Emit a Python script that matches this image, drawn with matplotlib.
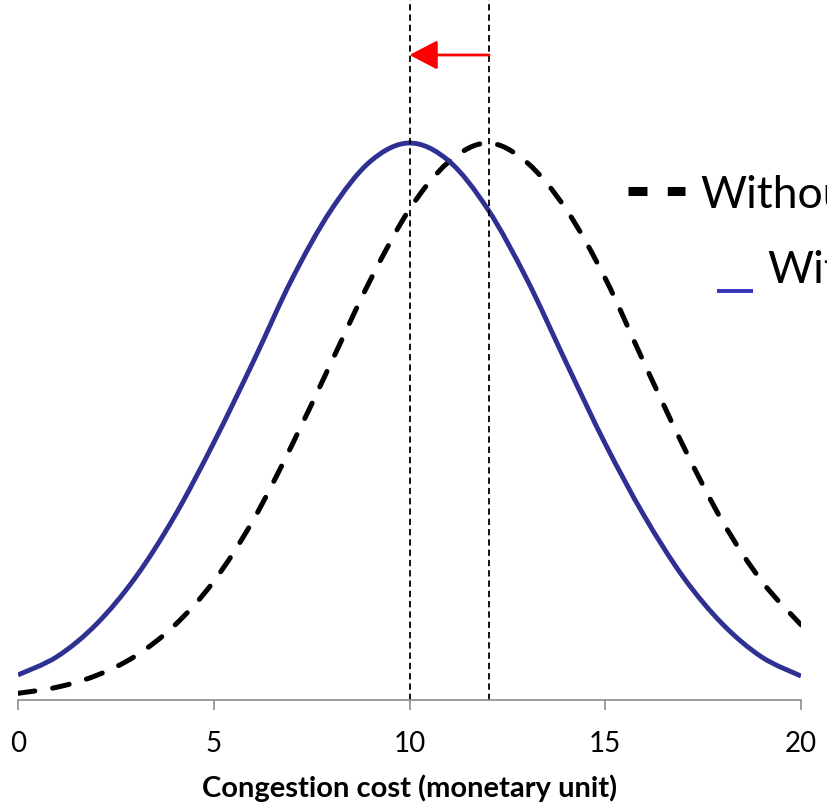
import matplotlib.pyplot as plt
from matplotlib.path import Path
from matplotlib.patches import PathPatch
from matplotlib.lines import Line2D

# values (relative height, peak = 1)
cost = list(range(0, 21))
with_vals = [0.045, 0.078, 0.136, 0.220, 0.330, 0.462, 0.606, 0.756, 0.880, 0.967, 1.0,
             0.968, 0.881, 0.755, 0.606, 0.460, 0.330, 0.220, 0.136, 0.077, 0.043]
without_vals = [0.012, 0.023, 0.044, 0.079, 0.134, 0.213, 0.322, 0.458, 0.606, 0.754, 0.881,
                0.966, 1.0, 0.965, 0.881, 0.757, 0.604, 0.455, 0.320, 0.213, 0.135]
peak_marks = [10, 12.03]
xticks = [0, 5, 10, 15, 20]
legend_labels = ["Without", "With"]

font = ["Lato", "DejaVu Sans"]
blue = "#2e3192"


def smooth_path(xs, ys):
    # Excel-style smoothed line: Catmull-Rom segments as cubic Beziers
    pts = list(zip(xs, ys))
    verts = [pts[0]]
    codes = [Path.MOVETO]
    n = len(pts)
    for i in range(n - 1):
        p0 = pts[max(i - 1, 0)]
        p1 = pts[i]
        p2 = pts[i + 1]
        p3 = pts[min(i + 2, n - 1)]
        c1 = (p1[0] + (p2[0] - p0[0]) / 6, p1[1] + (p2[1] - p0[1]) / 6)
        c2 = (p2[0] - (p3[0] - p1[0]) / 6, p2[1] - (p3[1] - p1[1]) / 6)
        verts += [c1, c2, p2]
        codes += [Path.CURVE4] * 3
    return Path(verts, codes)


fig = plt.figure(figsize=(8.27, 8.07), dpi=100)
ax = fig.add_axes([18 / 827, 107 / 807, 783 / 827, 700 / 807])

ax.add_patch(PathPatch(smooth_path(cost, without_vals), fill=False, edgecolor="black",
                       lw=3.6, linestyle=(0, (3.4, 3.6)), capstyle="round"))
ax.add_patch(PathPatch(smooth_path(cost, with_vals), fill=False, edgecolor=blue, lw=3.5))

for m in peak_marks:
    ax.axvline(m, color="black", lw=1.3, linestyle=(0, (3.5, 2.2)))

ax.annotate("", xy=(peak_marks[0], 1.158), xytext=(peak_marks[1], 1.158),
            arrowprops=dict(arrowstyle="-|>,head_length=0.86,head_width=0.45",
                            mutation_scale=20, color="red", lw=2,
                            shrinkA=0, shrinkB=0))

ax.set_xlim(0, 20)
ax.set_ylim(0, 700 / 557)
ax.set_xticks(xticks)
ax.set_xticklabels([str(t) for t in xticks], family=font, fontsize=20)
ax.set_yticks([])
for s in ["top", "left", "right"]:
    ax.spines[s].set_visible(False)
ax.spines["bottom"].set_color("#8c8c8c")
ax.spines["bottom"].set_linewidth(1.2)
ax.tick_params(axis="x", direction="out", length=7.5, width=1.2, color="#8c8c8c", pad=15)
ax.set_xlabel("Congestion cost (monetary unit)", family=font, fontsize=21,
              fontweight="bold", labelpad=12)

# legend, partly cut off by the right edge as in the original
fig.add_artist(Line2D([628 / 827, 685 / 827], [1 - 191 / 807, 1 - 191 / 807],
                      color="black", lw=6.5, linestyle=(0, (2.1, 2.25)),
                      solid_capstyle="butt", dash_capstyle="butt"))
fig.add_artist(Line2D([717 / 827, 753 / 827], [1 - 291 / 807, 1 - 291 / 807],
                      color="#3333bb", lw=2.8, solid_capstyle="butt"))
fig.text(700 / 827, 1 - 208 / 807, legend_labels[0], family=font, fontsize=32,
         va="baseline", ha="left")
fig.text(767 / 827, 1 - 283 / 807, legend_labels[1], family=font, fontsize=32,
         va="baseline", ha="left")

fig.savefig("out.png", dpi=100)
